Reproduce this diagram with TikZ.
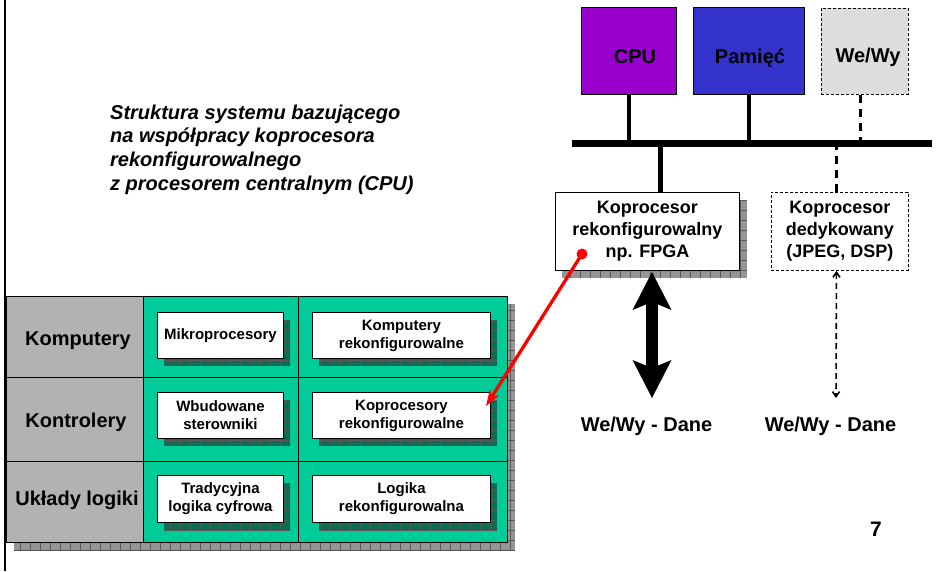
\documentclass[tikz,border=0pt]{standalone}
\usepackage{fontspec}
\setmainfont{Liberation Sans}
\usetikzlibrary{arrows.meta}
\definecolor{cpuc}{HTML}{9900CC}
\definecolor{memc}{HTML}{3333CC}
\definecolor{ioc}{HTML}{DDDDDD}
\definecolor{tealc}{HTML}{00CC99}
\definecolor{grayc}{HTML}{B2B2B2}
\definecolor{shgray}{HTML}{959595}
\definecolor{shgreen}{HTML}{0B6E50}
\newcommand\myshadow[5]{%
  \begin{scope}
    \clip (#2,#3) rectangle (#4,#5);
    \fill[#1] (#2,#3) rectangle (#4,#5);
    \draw[black!65, line width=0.6pt, step=10pt] (#2,#3) grid (#4,#5);
  \end{scope}}
\begin{document}
\begin{tikzpicture}[x=1pt,y=-1pt,
  rect/.style={draw=black, line width=0.9pt, anchor=north west, inner sep=0pt, align=center},
  dashbox/.style={rect, dash pattern=on 3pt off 2pt},
  cell/.style={draw=black, line width=1.2pt, anchor=north west, inner sep=0pt, align=center},
  big/.style={font=\fontsize{20}{24}\selectfont\bfseries},
  mid/.style={font=\fontsize{18}{22}\selectfont\bfseries},
  small/.style={font=\fontsize{15}{18}\selectfont\bfseries},
  ibox/.style={rect, fill=white, small}]
\useasboundingbox (0,0) rectangle (952,571);
% left border
\coordinate (lt) at (5,0);
\coordinate (lb) at (5,571);
\draw[line width=2.5pt] (lt) -- (lb);

% title
\node[anchor=north west, inner sep=0pt, align=left,
  font=\fontsize{20}{23.7}\selectfont\bfseries\itshape] (title) at (110,104.5)
  {Struktura systemu bazującego\\na współpracy koprocesora\\rekonfigurowalnego\\z procesorem centralnym (CPU)};

% top boxes
\node[rect, fill=cpuc, minimum width=95, minimum height=87] (cpu) at (581,7) {};
\node[big] (cputxt) at (635,57) {CPU};
\node[rect, fill=memc, minimum width=111, minimum height=87] (pam) at (693,7) {};
\node[big] (pamtxt) at (750,58) {Pamięć};
\node[dashbox, fill=ioc, minimum width=87, minimum height=86] (io) at (821,8) {};
\node[big] (iotxt) at (868,57) {We/Wy};

% bus
\coordinate (busL) at (572,143);
\coordinate (busR) at (932,143);
\draw[line width=7pt] (busL) -- (busR);
\draw[line width=4.5pt] (cpu.south) -- (cpu.south |- busL);
\draw[line width=4.5pt] (pam.south) -- (pam.south |- busL);
\draw[line width=3pt, dash pattern=on 8pt off 6pt] ([xshift=-4pt]io.south) -- ([xshift=-4pt]io.south |- busL);

% coprocessors
\myshadow{shgray}{562}{200}{747}{278}
\node[rect, fill=white, mid, minimum width=184, minimum height=78] (kop) at (555,192)
  {Koprocesor\\rekonfigurowalny\\np. FPGA};
\node[dashbox, fill=white, mid, minimum width=137, minimum height=78] (ded) at (771,192)
  {Koprocesor\\dedykowany\\(JPEG, DSP)};
\draw[line width=4.5pt] ([xshift=13pt]kop.north) -- ([xshift=13pt]kop.north |- busL);
\draw[line width=3pt, dash pattern=on 8pt off 6pt] ([xshift=-3.5pt]ded.north) -- ([xshift=-3.5pt]ded.north |- busL);

% data arrows
\coordinate (b1) at (652,272);
\coordinate (b2) at (652,398);
\draw[line width=12pt, {Stealth[length=38pt,width=39pt,inset=8pt,line width=0pt]}-{Stealth[length=38pt,width=39pt,inset=8pt,line width=0pt]}] (b1) -- (b2);
\coordinate (d2) at (836,398);
\draw[line width=1.6pt, dash pattern=on 6pt off 4pt, {Straight Barb[length=5pt,width=7pt]}-{Straight Barb[length=5pt,width=7pt]}] ([xshift=-3.5pt]ded.south) -- (d2);
\node[big] (dane1) at (646.5,426) {We/Wy - Dane};
\node[big] (dane2) at (830.5,426) {We/Wy - Dane};
\node[font=\fontsize{21}{25}\selectfont\bfseries] (num) at (876,529) {7};

% table
\myshadow{shgray}{14}{304}{515}{550}
\node[cell, fill=grayc, minimum width=137, minimum height=81] (r1) at (6,296) {};
\node[cell, fill=grayc, minimum width=137, minimum height=84] (r2) at (6,377) {};
\node[cell, fill=grayc, minimum width=137, minimum height=81] (r3) at (6,461) {};
\node[big] (r1t) at (78,341) {Komputery};
\node[big] (r2t) at (76,422) {Kontrolery};
\node[big] (r3t) at (77,500) {Układy logiki};
\node[cell, fill=tealc, minimum width=155, minimum height=81] (c11) at (143,296) {};
\node[cell, fill=tealc, minimum width=209, minimum height=81] (c12) at (298,296) {};
\node[cell, fill=tealc, minimum width=155, minimum height=84] (c21) at (143,377) {};
\node[cell, fill=tealc, minimum width=209, minimum height=84] (c22) at (298,377) {};
\node[cell, fill=tealc, minimum width=155, minimum height=81] (c31) at (143,461) {};
\node[cell, fill=tealc, minimum width=209, minimum height=81] (c32) at (298,461) {};

\myshadow{shgreen}{164}{320}{290}{366}
\myshadow{shgreen}{319}{320}{497}{366}
\myshadow{shgreen}{164}{400}{290}{446}
\myshadow{shgreen}{319}{400}{497}{446}
\myshadow{shgreen}{164}{483}{290}{530}
\myshadow{shgreen}{319}{483}{497}{530}
\node[ibox, minimum width=126, minimum height=46] (b11) at (157,312) {Mikroprocesory};
\node[ibox, minimum width=178, minimum height=46] (b12) at (312,312) {Komputery\\rekonfigurowalne};
\node[ibox, minimum width=126, minimum height=46] (b21) at (157,392) {Wbudowane\\sterowniki};
\node[ibox, minimum width=178, minimum height=46] (b22) at (312,392) {Koprocesory\\rekonfigurowalne};
\node[ibox, minimum width=126, minimum height=47] (b31) at (157,475) {Tradycyjna\\logika cyfrowa};
\node[ibox, minimum width=178, minimum height=47] (b32) at (312,475) {Logika\\rekonfigurowalna};

% red pointer
\node[circle, fill=red, inner sep=0pt, minimum size=11pt] (rdot) at (582,254) {};
\coordinate (rtip) at (486,406);
\draw[red, line width=3.3pt, -{Stealth[length=16pt,width=11pt]}] (rdot.center) -- (rtip);
\end{tikzpicture}
\end{document}
